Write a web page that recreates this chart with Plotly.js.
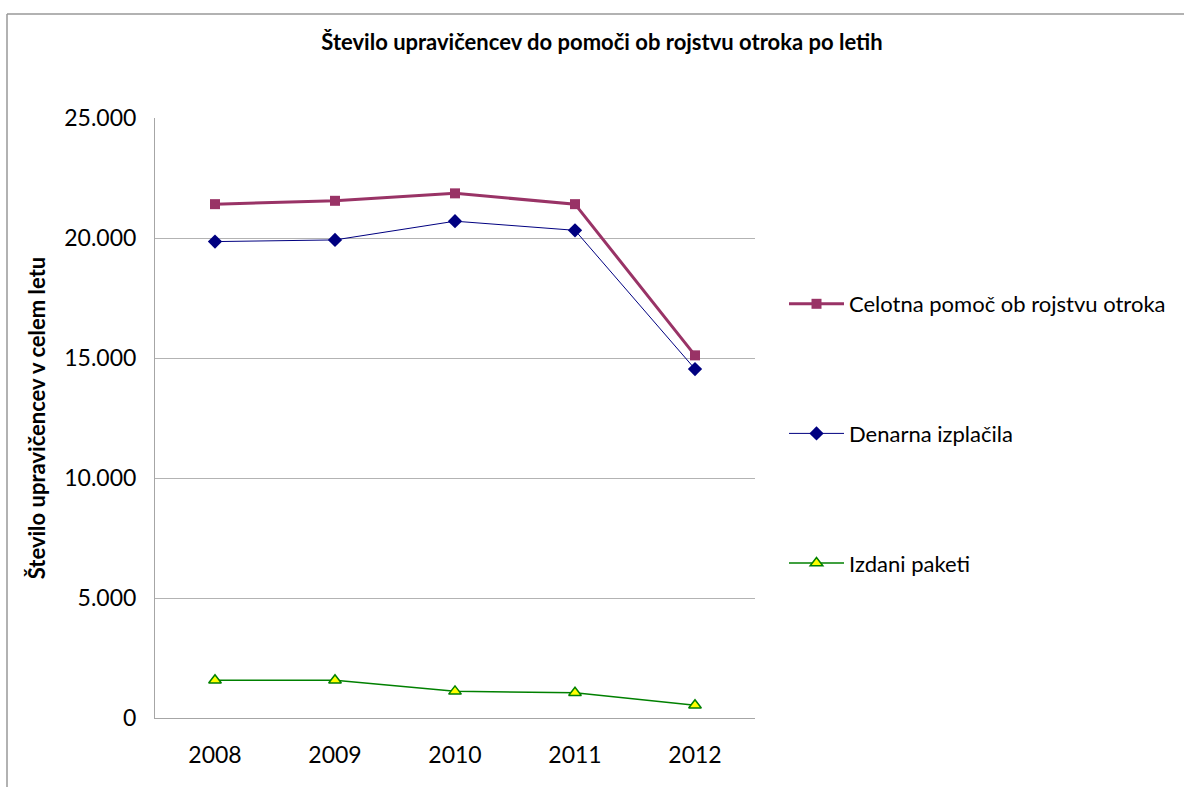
<!DOCTYPE html>
<html>
<head>
<meta charset="utf-8">
<script src="https://cdn.plot.ly/plotly-3.0.1.min.js"></script>
<style>
html,body{margin:0;padding:0;background:#fff;}
#chart{width:1184px;height:787px;}
</style>
</head>
<body>
<div id="chart"></div>
<script>
const years = ["2008", "2009", "2010", "2011", "2012"];
const celotna = [21410, 21550, 21860, 21410, 15110];
const denarna = [19850, 19920, 20700, 20320, 14540];
const paketi = [1570, 1570, 1110, 1050, 530];
const seriesNames = ["Celotna pomoč ob rojstvu otroka", "Denarna izplačila", "Izdani paketi"];
const yTicks = [0, 5000, 10000, 15000, 20000, 25000];

const FONT = "Lato, 'Open Sans', sans-serif";

const traces = [
  {
    x: years, y: celotna, name: seriesNames[0], type: "scatter", mode: "lines+markers",
    line: {color: "#993366", width: 3},
    marker: {symbol: "square", size: 10, color: "#993366"},
    legendgroup: "a"
  },
  {
    x: years, y: denarna, name: seriesNames[1], type: "scatter", mode: "lines+markers",
    line: {color: "#000080", width: 1},
    marker: {symbol: "diamond", size: 11, color: "#000080"},
    legendgroup: "b"
  },
  {
    x: years, y: paketi, name: seriesNames[2], type: "scatter", mode: "lines+markers",
    line: {color: "#008000", width: 1.5},
    marker: {symbol: "triangle-up", size: 11, color: "#ffff00", line: {color: "#008000", width: 1.5}},
    legendgroup: "c"
  }
];

const layout = {
  width: 1184, height: 787,
  margin: {l: 155, r: 429, t: 118, b: 69},
  paper_bgcolor: "#ffffff", plot_bgcolor: "#ffffff",
  separators: ",.",
  font: {family: FONT, size: 23, color: "#000"},
  title: {
    text: "<b>Število upravičencev do pomoči ob rojstvu otroka po letih</b>",
    font: {family: FONT, size: 22, color: "#000"},
    xref: "container", x: 602/1184, xanchor: "center",
    yref: "container", y: 1 - 42/787, yanchor: "middle"
  },
  xaxis: {
    type: "category", range: [-0.5, 4.5],
    showgrid: false, showline: true, linecolor: "#a6a6a6", linewidth: 1,
    ticks: "", ticklabelstandoff: 16,
    tickfont: {family: FONT, size: 23, color: "#000"},
    fixedrange: true
  },
  yaxis: {
    range: [0, 25000], tickvals: yTicks, tickformat: ",d",
    showgrid: true, gridcolor: "#b3b3b3", gridwidth: 1,
    showline: true, linecolor: "#a6a6a6", linewidth: 1,
    zeroline: false, ticks: "", ticklabelstandoff: 13,
    tickfont: {family: FONT, size: 23, color: "#000"},
    title: {text: "<b>Število upravičencev v celem letu</b>", font: {family: FONT, size: 22, color: "#000"}, standoff: 12},
    automargin: false,
    fixedrange: true
  },
  showlegend: true,
  legend: {
    x: (784 - 155) / 600, xanchor: "left",
    y: (718 - 283) / 600, yanchor: "top",
    font: {family: FONT, size: 22, color: "#000"},
    tracegroupgap: 98, itemwidth: 55,
    bgcolor: "rgba(0,0,0,0)"
  },
  shapes: [
    {type: "line", xref: "paper", yref: "paper", x0: (7 - 155)/600, x1: (1184 - 155)/600, y0: (718 - 14)/600, y1: (718 - 14)/600, line: {color: "#999999", width: 1.5}},
    {type: "line", xref: "paper", yref: "paper", x0: (7 - 155)/600, x1: (7 - 155)/600, y0: (718 - 14)/600, y1: (718 - 800)/600, line: {color: "#999999", width: 1.5}}
  ]
};

Plotly.newPlot("chart", traces, layout, {displayModeBar: false, staticPlot: true});
</script>
</body>
</html>
